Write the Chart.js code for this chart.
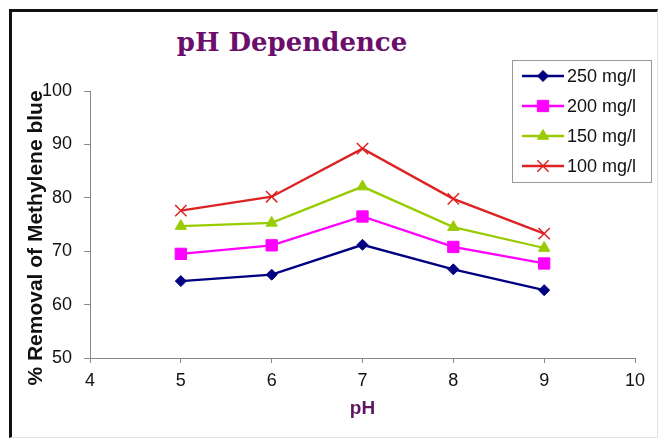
<!DOCTYPE html>
<html>
<head>
<meta charset="utf-8">
<script src="https://cdn.jsdelivr.net/npm/chart.js@4/dist/chart.umd.min.js"></script>
<style>
  html, body { margin:0; padding:0; background:#fff; width:659px; height:439px; overflow:hidden; }
  #frame { position:absolute; left:9px; top:9px; width:645px; height:425px;
    border-left:3px solid #111; border-top:3px solid #111; border-right:1px solid #e2e2e2; border-bottom:1px solid #e2e2e2; }
  #title { position:absolute; left:0; top:29px; width:584px; text-align:center;
    font-family:"DejaVu Serif", serif; font-weight:bold; font-size:26px; line-height:27px; color:#6c0f6c; }
  canvas { position:absolute; left:0; top:0; }
</style>
</head>
<body>
<div id="frame"></div>
<div id="title">pH Dependence</div>
<canvas id="c" width="659" height="439"></canvas>
<script>
const phValues = [5, 6, 7, 8, 9];
const seriesLabels = ['250 mg/l', '200 mg/l', '150 mg/l', '100 mg/l'];
const removal250 = [64.4, 65.6, 71.2, 66.6, 62.7];
const removal200 = [69.5, 71.1, 76.5, 70.8, 67.7];
const removal150 = [74.7, 75.3, 82.1, 74.5, 70.6];
const removal100 = [77.6, 80.2, 89.2, 79.8, 73.3];
const xTicks = [4, 5, 6, 7, 8, 9, 10];
const yTicks = [50, 60, 70, 80, 90, 100];
const yAxisTitle = '% Removal of Methylene blue';
const xAxisTitle = 'pH';

const pts = arr => phValues.map((x, i) => ({x: x, y: arr[i]}));

function ds(label, values, color, style, radius, bw) {
  return {
    label: label, data: pts(values),
    borderColor: color, backgroundColor: color,
    borderWidth: 2.3,
    pointStyle: style, pointRadius: radius,
    pointBackgroundColor: color, pointBorderColor: color,
    pointBorderWidth: bw, pointHoverRadius: radius,
    tension: 0, fill: false
  };
}

const boxLegend = {
  id: 'boxLegend',
  afterDraw(chart) {
    const ctx = chart.ctx;
    // y-axis title
    ctx.save();
    ctx.translate(36, 238);
    ctx.rotate(-Math.PI / 2);
    ctx.fillStyle = '#111';
    ctx.font = 'bold 21px "Liberation Sans", Arial, sans-serif';
    ctx.textAlign = 'center'; ctx.textBaseline = 'middle';
    ctx.fillText(yAxisTitle, 0, 0);
    ctx.restore();

    const L = 512.5, T = 60.5, W = 139, H = 122;
    ctx.save();
    ctx.fillStyle = '#fff'; ctx.fillRect(L, T, W, H);
    ctx.strokeStyle = '#999'; ctx.lineWidth = 1; ctx.strokeRect(L, T, W, H);
    const drawPoint = (Chart.helpers && Chart.helpers.drawPoint) ? Chart.helpers.drawPoint : null;
    chart.data.datasets.forEach((d, i) => {
      const y = 76 + i * 30;
      ctx.strokeStyle = d.borderColor; ctx.lineWidth = d.borderWidth;
      ctx.beginPath(); ctx.moveTo(522, y); ctx.lineTo(564, y); ctx.stroke();
      if (drawPoint) {
        ctx.fillStyle = d.pointBackgroundColor; ctx.strokeStyle = d.pointBorderColor; ctx.lineWidth = d.pointBorderWidth;
        drawPoint(ctx, {pointStyle: d.pointStyle, radius: d.pointRadius, rotation: 0, borderWidth: d.pointBorderWidth}, 543, y);
      }
      ctx.fillStyle = '#111';
      ctx.font = '18px "Liberation Sans", Arial, sans-serif';
      ctx.textBaseline = 'middle'; ctx.textAlign = 'left';
      ctx.fillText(d.label, 567, y + 1);
    });
    ctx.restore();
  }
};

new Chart(document.getElementById('c'), {
  type: 'line',
  data: {
    datasets: [
      ds(seriesLabels[0], removal250, '#000080', 'rectRot', 5.5, 1),
      ds(seriesLabels[1], removal200, '#ff00ff', 'rect', 8, 1),
      ds(seriesLabels[2], removal150, '#99cc00', 'triangle', 6.5, 1),
      ds(seriesLabels[3], removal100, '#dd2222', 'crossRot', 8, 1.5)
    ]
  },
  options: {
    responsive: false, animation: false, devicePixelRatio: 1,
    layout: { padding: { left: 0, right: 24, top: 91, bottom: 0 } },
    plugins: { legend: { display: false }, title: { display: false }, tooltip: { enabled: false } },
    scales: {
      x: {
        type: 'linear', min: xTicks[0], max: xTicks[xTicks.length - 1],
        afterBuildTicks: s => { s.ticks = xTicks.map(v => ({value: v})); },
        afterFit: s => { s.height = 81; },
        border: { display: true, color: '#888', width: 1 },
        grid: { display: true, drawOnChartArea: false, drawTicks: true, tickLength: 5, color: '#888' },
        ticks: { color: '#111', font: { family: '"Liberation Sans", Arial, sans-serif', size: 18 }, padding: 7, maxRotation: 0 },
        title: { display: true, text: xAxisTitle, color: '#5e1660',
          font: { family: '"Liberation Sans", Arial, sans-serif', size: 19, weight: 'bold' },
          padding: { top: 0, bottom: 19 } }
      },
      y: {
        type: 'linear', min: yTicks[0], max: yTicks[yTicks.length - 1],
        afterBuildTicks: s => { s.ticks = yTicks.map(v => ({value: v})); },
        afterFit: s => { s.width = 90; },
        border: { display: true, color: '#888', width: 1 },
        grid: { display: true, drawOnChartArea: false, drawTicks: true, tickLength: 6, color: '#888' },
        ticks: { color: '#111', font: { family: '"Liberation Sans", Arial, sans-serif', size: 18 }, padding: 12 },
        title: { display: false }
      }
    }
  },
  plugins: [boxLegend]
});
</script>
</body>
</html>
